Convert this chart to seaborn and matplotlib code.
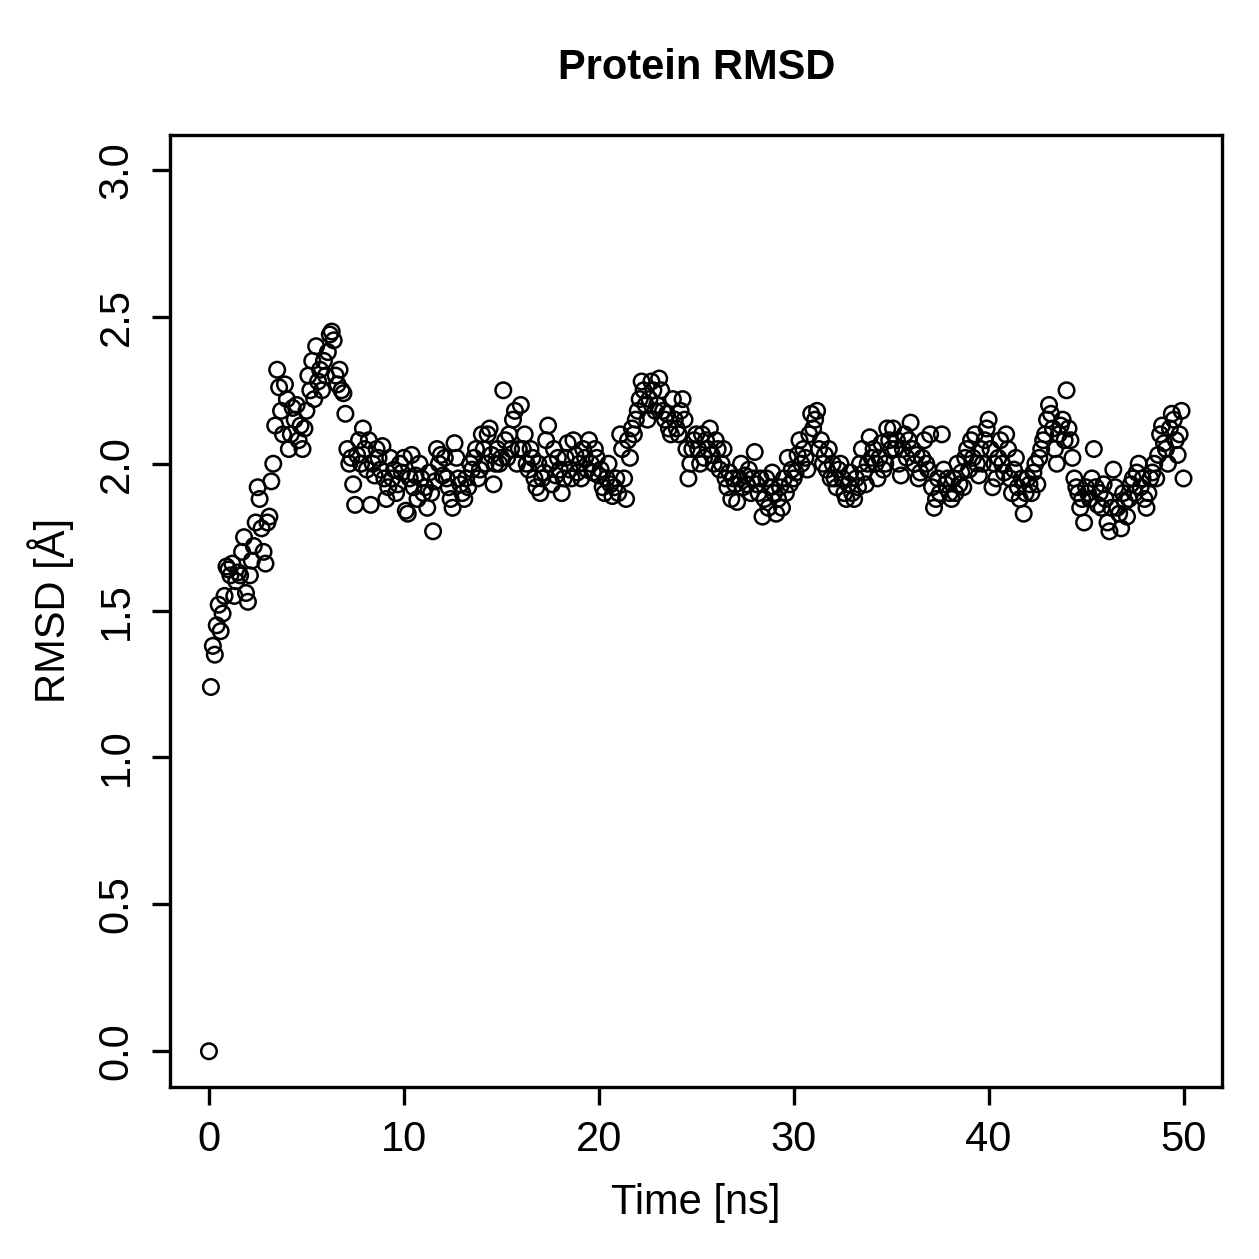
import numpy as np
import matplotlib
matplotlib.use("Agg")
import matplotlib.pyplot as plt
import seaborn as sns
import pandas as pd

sns.set_style("ticks")
plt.rcParams["font.family"] = ["Liberation Sans", "DejaVu Sans"]
plt.rcParams["text.color"] = "black"
plt.rcParams["axes.labelcolor"] = "black"
plt.rcParams["xtick.color"] = "black"
plt.rcParams["ytick.color"] = "black"

# RMSD values, one row per ns (0.1 ns steps)
rmsd_rows = [
    [0.00, 1.24, 1.38, 1.35, 1.45, 1.52, 1.43, 1.49, 1.55, 1.65],
    [1.64, 1.62, 1.66, 1.55, 1.60, 1.63, 1.62, 1.70, 1.75, 1.56],
    [1.53, 1.62, 1.67, 1.72, 1.80, 1.92, 1.88, 1.78, 1.70, 1.66],
    [1.80, 1.82, 1.94, 2.00, 2.13, 2.32, 2.26, 2.18, 2.10, 2.27],
    [2.22, 2.05, 2.10, 2.19, 2.15, 2.20, 2.08, 2.13, 2.05, 2.12],
    [2.18, 2.30, 2.25, 2.35, 2.22, 2.40, 2.28, 2.32, 2.25, 2.35],
    [2.30, 2.38, 2.44, 2.45, 2.42, 2.30, 2.27, 2.32, 2.25, 2.24],
    [2.17, 2.05, 2.00, 2.02, 1.93, 1.86, 2.03, 2.08, 2.00, 2.12],
    [2.05, 1.98, 2.08, 1.86, 2.00, 1.96, 2.05, 2.02, 1.98, 2.06],
    [1.95, 1.88, 1.92, 2.02, 1.95, 1.98, 1.90, 1.93, 2.00, 1.97],
    [2.02, 1.84, 1.83, 1.95, 2.03, 1.92, 1.96, 1.88, 2.00, 1.95],
    [1.90, 1.92, 1.85, 1.97, 1.90, 1.77, 1.94, 2.05, 2.00, 2.03],
    [1.96, 2.02, 1.95, 1.92, 1.88, 1.85, 2.07, 2.02, 1.95, 1.93],
    [1.90, 1.88, 1.95, 1.92, 2.00, 1.98, 2.02, 2.05, 1.95, 1.98],
    [2.10, 2.05, 2.00, 2.10, 2.12, 2.03, 1.93, 2.00, 2.05, 2.00],
    [2.02, 2.25, 2.08, 2.02, 2.10, 2.05, 2.15, 2.18, 2.00, 2.05],
    [2.20, 2.05, 2.10, 2.00, 1.98, 2.05, 2.02, 1.95, 1.92, 2.00],
    [1.90, 1.95, 1.97, 2.08, 2.13, 2.00, 1.93, 2.05, 1.96, 2.02],
    [1.98, 1.90, 1.95, 2.02, 2.07, 1.98, 1.95, 2.08, 2.03, 1.97],
    [2.00, 1.95, 2.05, 2.02, 1.98, 2.08, 2.00, 1.97, 2.05, 2.02],
    [1.96, 1.98, 1.92, 1.90, 1.95, 2.00, 1.93, 1.89, 1.92, 1.95],
    [1.90, 2.10, 2.05, 1.95, 1.88, 2.08, 2.02, 2.12, 2.10, 2.15],
    [2.18, 2.22, 2.28, 2.25, 2.20, 2.15, 2.22, 2.28, 2.25, 2.18],
    [2.20, 2.29, 2.25, 2.18, 2.15, 2.17, 2.12, 2.10, 2.22, 2.15],
    [2.12, 2.10, 2.18, 2.22, 2.15, 2.05, 1.95, 2.00, 2.05, 2.08],
    [2.10, 2.05, 2.00, 2.10, 2.02, 2.08, 2.05, 2.12, 2.03, 2.00],
    [2.08, 2.05, 1.98, 2.00, 2.05, 1.95, 1.92, 1.97, 1.88, 1.95],
    [1.93, 1.87, 1.95, 2.00, 1.92, 1.96, 1.93, 1.98, 1.90, 1.95],
    [2.04, 1.93, 1.90, 1.95, 1.82, 1.88, 1.95, 1.85, 1.92, 1.97],
    [1.90, 1.83, 1.88, 1.92, 1.85, 1.95, 1.90, 2.02, 1.93, 1.98],
    [1.95, 1.97, 2.03, 2.08, 2.00, 2.05, 2.02, 1.98, 2.10, 2.17],
    [2.12, 2.15, 2.18, 2.05, 2.08, 2.00, 2.03, 1.98, 2.05, 1.95],
    [2.00, 1.95, 1.92, 1.98, 2.00, 1.95, 1.90, 1.88, 1.93, 1.97],
    [1.90, 1.88, 1.95, 1.92, 2.00, 2.05, 1.97, 1.93, 2.00, 2.09],
    [2.02, 2.05, 2.00, 1.95, 2.02, 2.07, 1.98, 2.00, 2.12, 2.08],
    [2.05, 2.12, 2.05, 2.08, 2.00, 1.96, 2.05, 2.10, 2.02, 2.08],
    [2.14, 2.05, 2.00, 2.03, 1.95, 1.97, 2.02, 2.08, 2.00, 1.98],
    [2.10, 1.92, 1.85, 1.88, 1.95, 1.90, 2.10, 1.98, 1.93, 1.95],
    [1.90, 1.88, 1.95, 1.90, 2.00, 1.93, 1.97, 1.92, 2.02, 2.05],
    [1.98, 2.08, 2.02, 2.10, 2.00, 1.96, 2.05, 2.00, 2.08, 2.12],
    [2.15, 2.05, 1.92, 2.00, 1.95, 2.02, 2.08, 2.00, 1.97, 2.10],
    [2.05, 1.95, 1.90, 1.98, 2.02, 1.92, 1.88, 1.95, 1.83, 1.90],
    [1.95, 1.93, 1.90, 1.97, 2.00, 1.93, 2.02, 2.05, 2.08, 2.10],
    [2.15, 2.20, 2.17, 2.12, 2.05, 2.00, 2.10, 2.13, 2.15, 2.08],
    [2.25, 2.12, 2.08, 2.02, 1.95, 1.92, 1.90, 1.85, 1.88, 1.80],
    [1.92, 1.90, 1.88, 1.95, 2.05, 1.92, 1.86, 1.90, 1.85, 1.93],
    [1.88, 1.80, 1.77, 1.85, 1.98, 1.92, 1.85, 1.83, 1.78, 1.90],
    [1.87, 1.82, 1.88, 1.93, 1.95, 1.90, 1.97, 2.00, 1.92, 1.95],
    [1.88, 1.85, 1.90, 1.95, 1.97, 2.00, 1.95, 2.03, 2.10, 2.13],
    [2.07, 2.05, 2.00, 2.12, 2.17, 2.15, 2.08, 2.03, 2.10, 2.18],
    [1.95],
]

rmsd = [v for row in rmsd_rows for v in row]
time_ns = [round(i * 0.1, 1) for i in range(len(rmsd))]
df = pd.DataFrame({"time": time_ns, "rmsd": rmsd})

x_ticks = [0, 10, 20, 30, 40, 50]
y_ticks = [0.0, 0.5, 1.0, 1.5, 2.0, 2.5, 3.0]

fig = plt.figure(figsize=(12.59, 12.59), dpi=100)
ax = fig.add_axes([0.135, 0.137, 0.836, 0.756])

sns.scatterplot(data=df, x="time", y="rmsd", ax=ax, marker="o", s=125,
                facecolor="none", edgecolor="black", linewidth=1.8)

ax.set_xlim(-2, 52)
ax.set_ylim(-0.12, 3.12)
ax.set_xticks(x_ticks)
ax.set_xticklabels([str(t) for t in x_ticks])
ax.set_yticks(y_ticks)
ax.set_yticklabels([f"{t:.1f}" for t in y_ticks], rotation=90, va="center")

ax.tick_params(axis="both", direction="out", length=13, width=2.4,
               labelsize=30, pad=11, color="black", labelcolor="black")
for sp in ax.spines.values():
    sp.set_visible(True)
    sp.set_linewidth(2.4)
    sp.set_color("black")

ax.set_xlabel("Time [ns]", fontsize=30, labelpad=17, color="black")
ax.set_ylabel("RMSD [Å]", fontsize=30, labelpad=16, color="black")
fig.text(0.553, 0.946, "Protein RMSD", ha="center", va="center",
         fontsize=30, fontweight="bold", color="black")

fig.savefig("out.png", dpi=100, facecolor="white")
